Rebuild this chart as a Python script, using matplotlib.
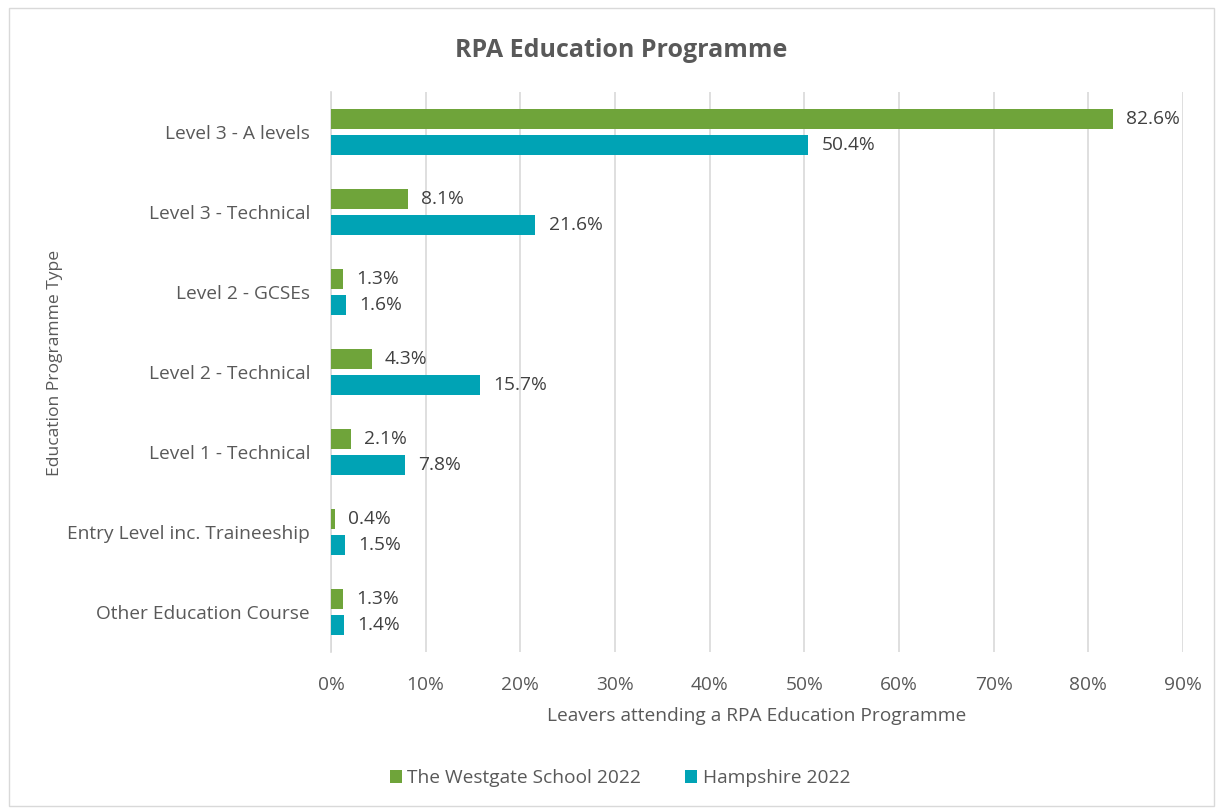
import numpy as np
import matplotlib
matplotlib.use("Agg")
import matplotlib.pyplot as plt
from matplotlib.patches import Rectangle
from matplotlib.ticker import FuncFormatter

# ---------------------------------------------------------------------------
# Data
# ---------------------------------------------------------------------------
categories = [
    "Level 3 - A levels",
    "Level 3 - Technical",
    "Level 2 - GCSEs",
    "Level 2 - Technical",
    "Level 1 - Technical",
    "Entry Level inc. Traineeship",
    "Other Education Course",
]
westgate = [82.6, 8.1, 1.3, 4.3, 2.1, 0.4, 1.3]
hampshire = [50.4, 21.6, 1.6, 15.7, 7.8, 1.5, 1.4]
series_names = ["The Westgate School 2022", "Hampshire 2022"]
x_ticks = [0, 10, 20, 30, 40, 50, 60, 70, 80, 90]

GREEN = "#6FA43A"
TEAL = "#00A3B5"
TXT = "#595959"
FS = 13.8

plt.rcParams["font.family"] = ["Open Sans", "DejaVu Sans"]

fig = plt.figure(figsize=(12.23, 8.09), dpi=100)
ax = fig.add_axes([0.2706, 0.1941, 0.6967, 0.6922])

# chart border
fig.patches.append(Rectangle((0.007, 0.004), 0.986, 0.986, transform=fig.transFigure,
                             fill=False, edgecolor="#D9D9D9", linewidth=1.0))

y = np.arange(len(categories))
h = 0.25
off = 0.157
ax.barh(y - off, westgate, height=h, color=GREEN, label=series_names[0], zorder=3)
ax.barh(y + off, hampshire, height=h, color=TEAL, label=series_names[1], zorder=3)

for yi, v in zip(y, westgate):
    ax.text(v + 1.4, yi - off, f"{v:.1f}%", va="center", ha="left", fontsize=FS, color="#404040")
for yi, v in zip(y, hampshire):
    ax.text(v + 1.4, yi + off, f"{v:.1f}%", va="center", ha="left", fontsize=FS, color="#404040")

ax.set_ylim(len(categories) - 0.5, -0.5)
ax.set_yticks(y)
ax.set_yticklabels(categories, fontsize=FS, color=TXT)
ax.set_xlim(0, 90)
ax.set_xticks(x_ticks)
ax.xaxis.set_major_formatter(FuncFormatter(lambda v, p: f"{v:.0f}%"))
ax.tick_params(axis="x", labelsize=FS, labelcolor=TXT, length=0, pad=17)
ax.tick_params(axis="y", length=0, pad=15)
ax.grid(axis="x", color="#D9D9D9", linewidth=1.2, zorder=0)
for s in ["top", "right", "bottom"]:
    ax.spines[s].set_visible(False)
ax.spines["left"].set_color("#D9D9D9")
ax.spines["left"].set_linewidth(1.2)

ax.set_xlabel("Leavers attending a RPA Education Programme", fontsize=FS, color=TXT, labelpad=10)
ax.set_ylabel("Education Programme Type", fontsize=12.6, color=TXT)
ax.yaxis.set_label_coords(-0.315, 0.516)
fig.text(0.508, 0.938, "RPA Education Programme", ha="center", va="center",
         fontsize=18, fontweight="bold", color=TXT)

fig.legend(loc="center", bbox_to_anchor=(0.507, 0.038), ncol=2, frameon=False,
           fontsize=FS, labelcolor=TXT, handlelength=0.6, handleheight=0.6,
           handletextpad=0.3, columnspacing=2.3)

fig.savefig("out.png", dpi=100)
